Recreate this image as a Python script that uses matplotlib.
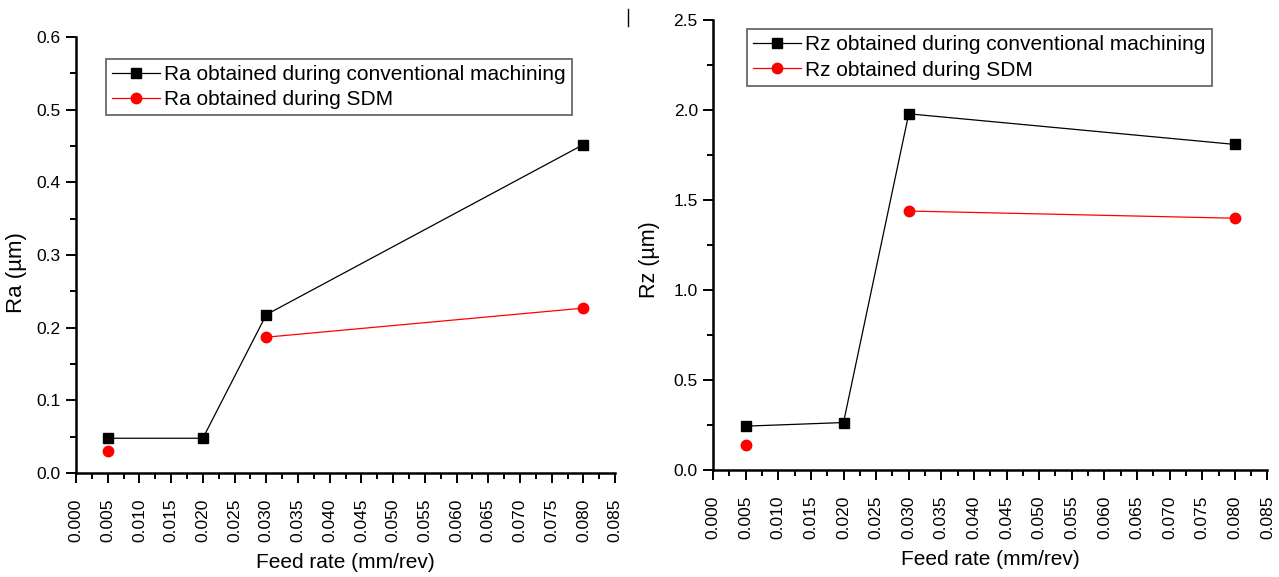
import numpy as np
import matplotlib
matplotlib.use("Agg")
import matplotlib.pyplot as plt
from matplotlib.ticker import MultipleLocator, FormatStrFormatter
from matplotlib.lines import Line2D

plt.rcParams['font.family'] = ['Liberation Sans', 'DejaVu Sans']

# feed rates (mm/rev)
feed = [0.005, 0.020, 0.030, 0.080]

# Ra (um)
ra_conv = [0.048, 0.048, 0.218, 0.452]
ra_sdm = [0.030, np.nan, 0.187, 0.227]

# Rz (um)
rz_conv = [0.245, 0.265, 1.98, 1.81]
rz_sdm = [0.140, np.nan, 1.44, 1.40]


def style_axes(ax, ymax, ymajor):
    ax.spines['top'].set_visible(False)
    ax.spines['right'].set_visible(False)
    for s in ('left', 'bottom'):
        ax.spines[s].set_linewidth(1.8)
    ax.set_xlim(0, 0.085)
    ax.set_ylim(0, ymax)
    ax.xaxis.set_major_locator(MultipleLocator(0.005))
    ax.xaxis.set_minor_locator(MultipleLocator(0.0025))
    ax.yaxis.set_major_locator(MultipleLocator(ymajor))
    ax.yaxis.set_minor_locator(MultipleLocator(ymajor / 2))
    ax.xaxis.set_major_formatter(FormatStrFormatter('%.3f'))
    ax.yaxis.set_major_formatter(FormatStrFormatter('%.1f'))
    ax.tick_params(which='major', direction='out', length=7, width=1.4,
                   labelsize=12.5, colors='black')
    ax.tick_params(which='minor', direction='out', length=4, width=1.4)
    ax.tick_params(axis='x', which='major', pad=11)
    ax.tick_params(axis='y', which='major', pad=4)
    for lab in ax.get_xticklabels():
        lab.set_rotation(90)
    ax.set_xlabel('Feed rate (mm/rev)', fontsize=15, labelpad=8)


def add_legend(ax, anchor):
    leg = ax.legend(loc='upper left', bbox_to_anchor=anchor, fontsize=15,
                    frameon=True, fancybox=False, edgecolor='#444444',
                    handlelength=2.3, handletextpad=0.2, borderpad=0.3,
                    labelspacing=0.3, borderaxespad=0)
    leg.get_frame().set_linewidth(1.3)


fig = plt.figure(figsize=(12.79, 5.77), dpi=100)

ax1 = fig.add_axes([0.0594, 0.180, 0.4216, 0.756])
ax1.plot(feed, ra_conv, color='black', lw=0.9, marker='s', ms=6.8,
         label='Ra obtained during conventional machining')
ax1.plot(feed, ra_sdm, color='red', lw=0.9, marker='o', ms=7.5,
         label='Ra obtained during SDM')
style_axes(ax1, 0.6, 0.1)
ax1.set_ylabel('Ra (\u00b5m)', fontsize=16)
ax1.yaxis.set_label_coords(-0.091, 0.459)
add_legend(ax1, (0.0557, 0.95))

ax2 = fig.add_axes([0.5575, 0.185, 0.4335, 0.780])
ax2.plot(feed, rz_conv, color='black', lw=0.9, marker='s', ms=6.8,
         label='Rz obtained during conventional machining')
ax2.plot(feed, rz_sdm, color='red', lw=0.9, marker='o', ms=7.5,
         label='Rz obtained during SDM')
style_axes(ax2, 2.5, 0.5)
ax2.set_ylabel('Rz (\u00b5m)', fontsize=15.5)
ax2.yaxis.set_label_coords(-0.0955, 0.469)
add_legend(ax2, (0.0613, 0.98))

# small stray mark between panels
fig.add_artist(Line2D([0.491, 0.491], [0.955, 0.985], color='black', lw=1))

fig.savefig('out.png', dpi=100)
